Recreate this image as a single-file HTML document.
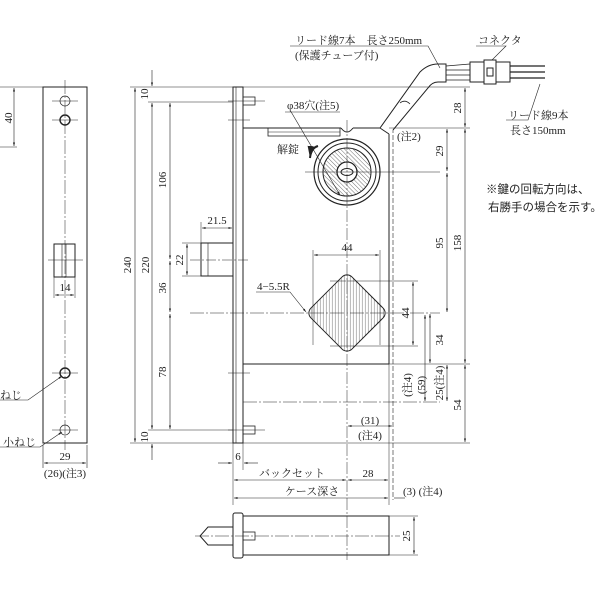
<!DOCTYPE html>
<html><head><meta charset="utf-8"><style>
html,body{margin:0;padding:0;background:#fff;}
svg{display:block;}
text{font-family:"Liberation Serif","Noto Serif CJK SC",serif;font-size:11px;fill:#222;}
.s{font-family:"Liberation Sans","Noto Sans CJK JP",sans-serif;font-size:11.5px;}
</style></head><body>
<svg width="600" height="600" viewBox="0 0 600 600" xmlns="http://www.w3.org/2000/svg">
<defs>
<pattern id="h" width="3" height="3" patternUnits="userSpaceOnUse" patternTransform="rotate(-45)">
<line x1="0" y1="0" x2="0" y2="3" stroke="#333" stroke-width="0.7"/></pattern>
<marker id="a" viewBox="0 0 10 10" refX="10" refY="5" markerWidth="6" markerHeight="6" orient="auto-start-reverse"><path d="M0,2 L10,5 L0,8z" fill="#222"/></marker>
</defs>
<g fill="none" stroke="#222" stroke-width="1">
<rect x="43" y="87" width="44" height="356"/>
<line x1="65" y1="80" x2="65" y2="450" stroke-width="0.5" stroke-dasharray="14,2,2,2"/>
<circle cx="65" cy="101" r="5" stroke-width="0.7"/>
<circle cx="65" cy="120" r="5" stroke-width="1.4"/>
<circle cx="65" cy="373" r="5" stroke-width="1.4"/>
<circle cx="65" cy="430" r="5" stroke-width="0.7"/>
<line x1="52" y1="101" x2="78" y2="101" stroke-width="0.5"/><line x1="52" y1="120" x2="78" y2="120" stroke-width="0.5"/>
<line x1="52" y1="373" x2="78" y2="373" stroke-width="0.5"/><line x1="52" y1="430" x2="78" y2="430" stroke-width="0.5"/>
<rect x="54" y="244" width="21" height="33"/>
<line x1="62" y1="244" x2="62" y2="277" stroke-width="0.6"/><line x1="66" y1="244" x2="66" y2="277" stroke-width="0.6"/>
<line x1="48" y1="260" x2="83" y2="260" stroke-width="0.5"/>
<line x1="0" y1="87" x2="43" y2="87" stroke-width="0.6"/><line x1="0" y1="147" x2="17" y2="147" stroke-width="0.6"/>
<line x1="14" y1="88" x2="14" y2="146" stroke-width="0.6" marker-start="url(#a)" marker-end="url(#a)"/>
<line x1="54" y1="277" x2="54" y2="298" stroke-width="0.5"/><line x1="75" y1="277" x2="75" y2="298" stroke-width="0.5"/>
<line x1="55" y1="295" x2="74" y2="295" stroke-width="0.6" marker-start="url(#a)" marker-end="url(#a)"/>
<line x1="43" y1="445" x2="43" y2="468" stroke-width="0.6"/><line x1="87" y1="445" x2="87" y2="468" stroke-width="0.6"/>
<line x1="44" y1="463" x2="86" y2="463" stroke-width="0.6" marker-start="url(#a)" marker-end="url(#a)"/>
<polyline points="0,400 28,400 62,376" stroke-width="0.6" marker-end="url(#a)"/>
<polyline points="0,447 40,447 62,432" stroke-width="0.6" marker-end="url(#a)"/>

<rect x="233" y="87" width="10" height="356"/>
<line x1="236" y1="87" x2="236" y2="443" stroke-width="0.6"/>
<line x1="243" y1="128" x2="341" y2="128"/><line x1="353" y1="128" x2="380" y2="128"/>
<path d="M341,128 Q347,136 353,128"/>
<line x1="389" y1="134" x2="389" y2="364"/>
<line x1="243" y1="364" x2="389" y2="364"/>
<line x1="380" y1="128" x2="389" y2="134"/>
<line x1="393" y1="128" x2="393" y2="500" stroke-width="0.6" stroke-dasharray="5,2"/>
<rect x="268" y="128" width="72" height="8" stroke-width="0.8"/>
<line x1="268" y1="132" x2="340" y2="132" stroke-width="0.5"/>
<rect x="243" y="97" width="12" height="8" stroke-width="0.8"/><line x1="228" y1="101" x2="265" y2="101" stroke-width="0.5"/>
<rect x="243" y="426" width="12" height="8" stroke-width="0.8"/><line x1="228" y1="430" x2="265" y2="430" stroke-width="0.5"/>
<line x1="228" y1="120" x2="250" y2="120" stroke-width="0.5"/><line x1="228" y1="373" x2="250" y2="373" stroke-width="0.5"/>
<rect x="201" y="243" width="32" height="33"/><line x1="208" y1="243" x2="208" y2="276" stroke-width="0.6"/>
<line x1="190" y1="260" x2="250" y2="260" stroke-width="0.5" stroke-dasharray="10,2,2,2"/>
<circle cx="347" cy="172" r="33" stroke-width="1.2"/>
<circle cx="347" cy="172" r="29"/>
<circle cx="347" cy="172" r="24" fill="url(#h)"/>
<circle cx="347" cy="172" r="10" fill="#fff" stroke-width="1.3"/>
<ellipse cx="347" cy="172" rx="6" ry="3.5"/>
<line x1="305" y1="172" x2="440" y2="172" stroke-width="0.5"/>
<line x1="347" y1="120" x2="347" y2="560" stroke-width="0.5" stroke-dasharray="12,2,2,2"/>
<line x1="290" y1="110" x2="340" y2="195" stroke-width="0.6" marker-end="url(#a)"/>
<line x1="285" y1="112" x2="340" y2="112" stroke-width="0.5"/>
<path d="M318,146 Q311,148 310,158" stroke-width="2" marker-end="url(#a)"/>
<path d="M380,128 L420,72 Q428,64 438,64 L446,64 L446,82 L438,82 Q432,82 428,88 L393,130" fill="#fff"/>
<path d="M400,103 Q405,99 410,104" stroke-width="0.8"/>
<path d="M446,66 L470,64 M446,70 L470,70 M446,75 L470,75 M446,80 L470,80" stroke-width="0.8"/>
<rect x="470" y="62" width="14" height="20" fill="#fff"/><rect x="484" y="60" width="12" height="24" fill="#fff"/><rect x="496" y="62" width="14" height="20" fill="#fff"/>
<rect x="487" y="68" width="6" height="8"/>
<path d="M510,66 L545,66 M510,72 L545,72 M510,78 L545,78" stroke-width="1.2"/>
<polyline points="290,46 428,46 440,68" stroke-width="0.6"/>
<polyline points="476,46 506,46 492,60" stroke-width="0.6"/>
<polyline points="506,120 528,120 540,84" stroke-width="0.6"/>
<rect x="318" y="284" width="58" height="58" rx="7" transform="rotate(45 347 313)" fill="url(#h)"/>
<line x1="190" y1="313" x2="440" y2="313" stroke-width="0.5" stroke-dasharray="14,2,2,2"/>
<line x1="313" y1="250" x2="313" y2="345" stroke-width="0.5"/><line x1="380" y1="250" x2="380" y2="345" stroke-width="0.5"/>
<line x1="314" y1="255" x2="379" y2="255" stroke-width="0.6" marker-start="url(#a)" marker-end="url(#a)"/>
<line x1="330" y1="281" x2="418" y2="281" stroke-width="0.5"/><line x1="330" y1="346" x2="418" y2="346" stroke-width="0.5"/>
<line x1="413" y1="282" x2="413" y2="345" stroke-width="0.6" marker-start="url(#a)" marker-end="url(#a)"/>
<polyline points="256,292 290,292 306,312" stroke-width="0.6" marker-end="url(#a)"/>
<line x1="130" y1="87" x2="233" y2="87" stroke-width="0.6"/>
<line x1="130" y1="443" x2="233" y2="443" stroke-width="0.6"/>
<line x1="148" y1="102" x2="233" y2="102" stroke-width="0.6"/>
<line x1="148" y1="430" x2="233" y2="430" stroke-width="0.6"/>
<line x1="135" y1="88" x2="135" y2="442" stroke-width="0.6" marker-start="url(#a)" marker-end="url(#a)"/>
<line x1="152" y1="70" x2="152" y2="86" stroke-width="0.6" marker-end="url(#a)"/>
<line x1="152" y1="103" x2="152" y2="429" stroke-width="0.6" marker-start="url(#a)" marker-end="url(#a)"/>
<line x1="152" y1="444" x2="152" y2="460" stroke-width="0.6" marker-start="url(#a)"/>
<line x1="170" y1="103" x2="170" y2="259" stroke-width="0.6" marker-start="url(#a)" marker-end="url(#a)"/>
<line x1="170" y1="261" x2="170" y2="312" stroke-width="0.6" marker-start="url(#a)" marker-end="url(#a)"/>
<line x1="170" y1="314" x2="170" y2="429" stroke-width="0.6" marker-start="url(#a)" marker-end="url(#a)"/>
<line x1="182" y1="243" x2="201" y2="243" stroke-width="0.5"/><line x1="182" y1="276" x2="201" y2="276" stroke-width="0.5"/>
<line x1="187" y1="244" x2="187" y2="275" stroke-width="0.6" marker-start="url(#a)" marker-end="url(#a)"/>
<line x1="201" y1="222" x2="201" y2="243" stroke-width="0.5"/>
<line x1="202" y1="228" x2="232" y2="228" stroke-width="0.6" marker-start="url(#a)" marker-end="url(#a)"/>
<line x1="243" y1="87" x2="470" y2="87" stroke-width="0.6"/>
<line x1="389" y1="128" x2="470" y2="128" stroke-width="0.6"/>
<line x1="389" y1="364" x2="470" y2="364" stroke-width="0.6"/>
<line x1="243" y1="443" x2="470" y2="443" stroke-width="0.6"/>
<line x1="243" y1="402" x2="440" y2="402" stroke-width="0.5" stroke-dasharray="14,2,2,2"/>
<line x1="465" y1="88" x2="465" y2="127" stroke-width="0.6" marker-start="url(#a)" marker-end="url(#a)"/>
<line x1="465" y1="129" x2="465" y2="363" stroke-width="0.6" marker-start="url(#a)" marker-end="url(#a)"/>
<line x1="465" y1="365" x2="465" y2="442" stroke-width="0.6" marker-start="url(#a)" marker-end="url(#a)"/>
<line x1="447" y1="129" x2="447" y2="171" stroke-width="0.6" marker-start="url(#a)" marker-end="url(#a)"/>
<line x1="447" y1="173" x2="447" y2="312" stroke-width="0.6" marker-start="url(#a)" marker-end="url(#a)"/>
<line x1="447" y1="365" x2="447" y2="401" stroke-width="0.6" marker-start="url(#a)" marker-end="url(#a)"/>
<line x1="430" y1="314" x2="430" y2="363" stroke-width="0.6" marker-start="url(#a)" marker-end="url(#a)"/>
<line x1="425" y1="315" x2="425" y2="401" stroke-width="0.6" marker-start="url(#a)" marker-end="url(#a)"/>
<line x1="348" y1="426" x2="392" y2="426" stroke-width="0.6" marker-start="url(#a)" marker-end="url(#a)"/>
<line x1="233" y1="443" x2="233" y2="505" stroke-width="0.5"/><line x1="243" y1="443" x2="243" y2="470" stroke-width="0.5"/>
<line x1="389" y1="364" x2="389" y2="505" stroke-width="0.5"/>
<line x1="218" y1="463" x2="232" y2="463" stroke-width="0.6" marker-end="url(#a)"/>
<line x1="258" y1="463" x2="244" y2="463" stroke-width="0.6" marker-end="url(#a)"/>
<line x1="234" y1="480" x2="346" y2="480" stroke-width="0.6" marker-start="url(#a)" marker-end="url(#a)"/>
<line x1="348" y1="480" x2="388" y2="480" stroke-width="0.6" marker-start="url(#a)" marker-end="url(#a)"/>
<line x1="234" y1="498" x2="388" y2="498" stroke-width="0.6" marker-start="url(#a)" marker-end="url(#a)"/>
<line x1="394" y1="498" x2="405" y2="498" stroke-width="0.6"/>
<rect x="243" y="516" width="146" height="39"/>
<rect x="233" y="513" width="10" height="45" rx="2"/>
<path d="M233,527 L208,527 L200,536 L208,545 L233,545"/>
<rect x="243" y="532" width="12" height="8" stroke-width="0.8"/>
<line x1="195" y1="536" x2="400" y2="536" stroke-width="0.5" stroke-dasharray="14,2,2,2"/>
<line x1="389" y1="516" x2="418" y2="516" stroke-width="0.5"/><line x1="389" y1="555" x2="418" y2="555" stroke-width="0.5"/>
<line x1="414" y1="517" x2="414" y2="554" stroke-width="0.6" marker-start="url(#a)" marker-end="url(#a)"/>
</g>
<text transform="translate(12,118) rotate(-90)" text-anchor="middle">40</text>
<text x="65" y="291" text-anchor="middle">14</text>
<text x="65" y="460" text-anchor="middle">29</text>
<text x="65" y="477" text-anchor="middle">(26)(注3)</text>
<text x="0" y="399">ねじ</text>
<text x="3" y="446">小ねじ</text>
<text transform="translate(148,94) rotate(-90)" text-anchor="middle">10</text>
<text transform="translate(148,437) rotate(-90)" text-anchor="middle">10</text>
<text transform="translate(131,265) rotate(-90)" text-anchor="middle">240</text>
<text transform="translate(149,265) rotate(-90)" text-anchor="middle">220</text>
<text transform="translate(166,180) rotate(-90)" text-anchor="middle">106</text>
<text transform="translate(166,288) rotate(-90)" text-anchor="middle">36</text>
<text transform="translate(166,372) rotate(-90)" text-anchor="middle">78</text>
<text transform="translate(183,260) rotate(-90)" text-anchor="middle">22</text>
<text x="217" y="224" text-anchor="middle">21.5</text>
<text x="287" y="109">φ38穴(注5)</text>
<text x="277" y="153">解錠</text>
<text x="295" y="44">リード線7本　長さ250mm</text>
<text x="295" y="59">(保護チューブ付)</text>
<text x="478" y="44">コネクタ</text>
<text x="508" y="119">リード線9本</text>
<text x="510" y="134">長さ150mm</text>
<text x="397" y="140">(注2)</text>
<text class="s" x="486" y="193">※鍵の回転方向は、</text>
<text class="s" x="488" y="211">右勝手の場合を示す。</text>
<text x="347" y="251" text-anchor="middle">44</text>
<text x="257" y="290">4−5.5R</text>
<text transform="translate(409,313) rotate(-90)" text-anchor="middle">44</text>
<text transform="translate(461,108) rotate(-90)" text-anchor="middle">28</text>
<text transform="translate(443,151) rotate(-90)" text-anchor="middle">29</text>
<text transform="translate(443,243) rotate(-90)" text-anchor="middle">95</text>
<text transform="translate(461,243) rotate(-90)" text-anchor="middle">158</text>
<text transform="translate(443,340) rotate(-90)" text-anchor="middle">34</text>
<text transform="translate(461,405) rotate(-90)" text-anchor="middle">54</text>
<text transform="translate(443,383) rotate(-90)" text-anchor="middle">25(注4)</text>
<text transform="translate(425,385) rotate(-90)" text-anchor="middle">(59)</text>
<text transform="translate(411,385) rotate(-90)" text-anchor="middle">(注4)</text>
<text x="370" y="424" text-anchor="middle">(31)</text>
<text x="370" y="439" text-anchor="middle">(注4)</text>
<text x="238" y="460" text-anchor="middle">6</text>
<text x="292" y="477" text-anchor="middle">バックセット</text>
<text x="368" y="477" text-anchor="middle">28</text>
<text x="312" y="495" text-anchor="middle">ケース深さ</text>
<text x="403" y="495">(3) (注4)</text>
<text transform="translate(410,536) rotate(-90)" text-anchor="middle">25</text>
</svg>
</body></html>
